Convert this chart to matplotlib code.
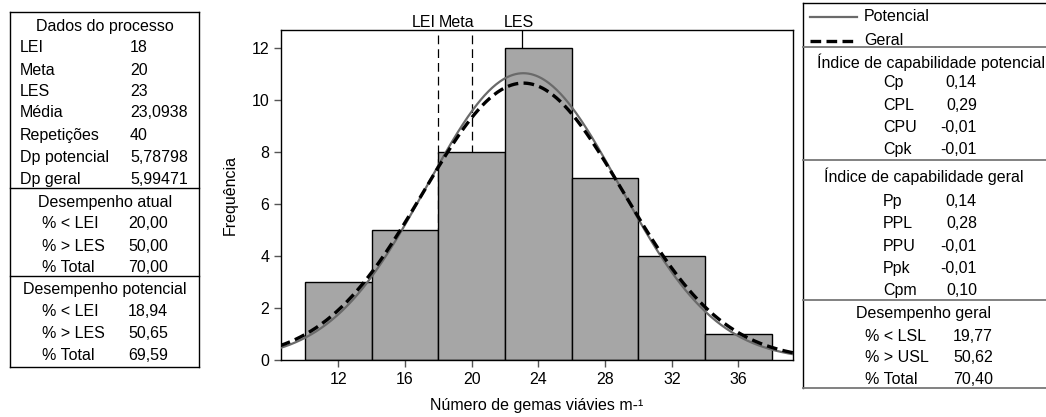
import numpy as np
import matplotlib.pyplot as plt
from matplotlib.lines import Line2D

plt.rcParams['font.family'] = ['Liberation Sans', 'DejaVu Sans']

# histogram data
bin_edges = [10, 14, 18, 22, 26, 30, 34, 38]
counts = [3, 5, 8, 12, 7, 4, 1]

# process data
lei = 18
meta = 20
les = 23
media = 23.0938
n_obs = 40
dp_potencial = 5.78798
dp_geral = 5.99471

xticks = [12, 16, 20, 24, 28, 32, 36]
yticks = [0, 2, 4, 6, 8, 10, 12]

dados_labels = ['LEI', 'Meta', 'LES', 'Média', 'Repetições', 'Dp potencial', 'Dp geral']
dados_values = ['18', '20', '23', '23,0938', '40', '5,78798', '5,99471']
atual_labels = ['% < LEI', '% > LES', '% Total']
atual_values = ['20,00', '50,00', '70,00']
pot_labels = ['% < LEI', '% > LES', '% Total']
pot_values = ['18,94', '50,65', '69,59']

cap_pot_labels = ['Cp', 'CPL', 'CPU', 'Cpk']
cap_pot_values = ['0,14', '0,29', '-0,01', '-0,01']
cap_ger_labels = ['Pp', 'PPL', 'PPU', 'Ppk', 'Cpm']
cap_ger_values = ['0,14', '0,28', '-0,01', '-0,01', '0,10']
des_ger_labels = ['% < LSL', '% > USL', '% Total']
des_ger_values = ['19,77', '50,62', '70,40']

W, H = 1046, 417
fig = plt.figure(figsize=(W / 100, H / 100), dpi=100)


def fx(px):
    return px / W


def fy(py):
    return 1 - py / H


def txt(x, y, s, ha='left', size=11.5):
    fig.text(fx(x), fy(y - 2), s, ha=ha, va='center_baseline', fontsize=size, color='black')


def hline(x0, x1, y, color='black', lw=1.0):
    fig.add_artist(Line2D([fx(x0), fx(x1)], [fy(y), fy(y)], color=color, lw=lw,
                          transform=fig.transFigure))


def vline(x, y0, y1, color='black', lw=1.0):
    fig.add_artist(Line2D([fx(x), fx(x)], [fy(y0), fy(y1)], color=color, lw=lw,
                          transform=fig.transFigure))


# main axes
ax = fig.add_axes([fx(281), fy(360), fx(793) - fx(281), fy(30) - fy(360)])
widths = np.diff(bin_edges)
ax.bar(bin_edges[:-1], counts, width=widths, align='edge', color='#a6a6a6',
       edgecolor='black', linewidth=1.0, zorder=2)

xs = np.linspace(8.5, 39.3, 400)
scale = n_obs * widths[0]
pdf_pot = scale * np.exp(-0.5 * ((xs - media) / dp_potencial) ** 2) / (dp_potencial * np.sqrt(2 * np.pi))
pdf_ger = scale * np.exp(-0.5 * ((xs - media) / dp_geral) ** 2) / (dp_geral * np.sqrt(2 * np.pi))
ax.plot(xs, pdf_pot, color='#6a6a6a', lw=1.6, zorder=3)
ax.plot(xs, pdf_ger, color='black', lw=2.4, ls=(0, (3.2, 1.6)), zorder=4)

# spec lines (behind bars)
ax.axvline(lei, color='black', lw=0.9, ls=(0, (7, 4)), zorder=1)
ax.axvline(meta, color='black', lw=0.9, ls=(0, (7, 4)), zorder=1)
ax.axvline(les, color='black', lw=0.9, zorder=1)
ax.text(lei - 0.15, 13.05, 'LEI', ha='right', va='center_baseline', fontsize=11.5)
ax.text(meta - 1.95, 13.05, 'Meta', ha='left', va='center_baseline', fontsize=11.5)
ax.text(les - 0.15, 13.05, 'LES', ha='center', va='center_baseline', fontsize=11.5)

ax.set_xlim(8.56, 39.27)
ax.set_ylim(0, 12.69)
ax.set_xticks(xticks)
ax.set_yticks(yticks)
ax.tick_params(direction='out', length=5, width=1, color='#555555', labelsize=11.5)
for sp in ax.spines.values():
    sp.set_linewidth(1.0)
ax.set_xlabel('Número de gemas viávies m-¹', fontsize=11.5, labelpad=8)
ax.set_ylabel('Frequência', fontsize=11.5, labelpad=10)

# left box
vline(10, 12, 367)
vline(199, 12, 367)
hline(10, 199, 12)
hline(10, 199, 367)
hline(10, 199, 188)
hline(10, 199, 276)

txt(105, 27, 'Dados do processo', ha='center')
rows = [48, 71, 92, 113, 136, 158, 180]
for y, lab, val in zip(rows, dados_labels, dados_values):
    txt(20, y, lab)
    txt(130, y, val)

txt(105, 203, 'Desempenho atual', ha='center')
for y, lab, val in zip([224, 247, 268], atual_labels, atual_values):
    txt(42, y, lab)
    txt(128, y, val)

txt(105, 290, 'Desempenho potencial', ha='center')
for y, lab, val in zip([312, 334, 356], pot_labels, pot_values):
    txt(42, y, lab)
    txt(128, y, val)

# right box
vline(803, 3, 388)
hline(803, 1046, 3)
hline(803, 1046, 47, color='#777777', lw=1.3)
hline(803, 1046, 160, color='#777777', lw=1.3)
hline(803, 1046, 300, color='#777777', lw=1.3)
hline(803, 1046, 388, color='#777777', lw=1.3)

fig.add_artist(Line2D([fx(810), fx(857)], [fy(17), fy(17)], color='#6a6a6a', lw=1.6,
                      transform=fig.transFigure))
fig.add_artist(Line2D([fx(810), fx(857)], [fy(41), fy(41)], color='black', lw=2.4,
                      ls=(0, (3.2, 1.6)), transform=fig.transFigure))
txt(864, 17, 'Potencial')
txt(864, 41, 'Geral')

txt(931, 63, 'Índice de capabilidade potencial', ha='center')
for y, lab, val in zip([83, 106, 128, 150], cap_pot_labels, cap_pot_values):
    txt(883, y, lab)
    txt(977, y, val, ha='right')

txt(924, 177, 'Índice de capabilidade geral', ha='center')
for y, lab, val in zip([202, 224, 247, 269, 291], cap_ger_labels, cap_ger_values):
    txt(883, y, lab)
    txt(977, y, val, ha='right')

txt(924, 314, 'Desempenho geral', ha='center')
for y, lab, val in zip([337, 358, 380], des_ger_labels, des_ger_values):
    txt(865, y, lab)
    txt(993, y, val, ha='right')

fig.savefig('out.png', dpi=100)
plt.close(fig)
